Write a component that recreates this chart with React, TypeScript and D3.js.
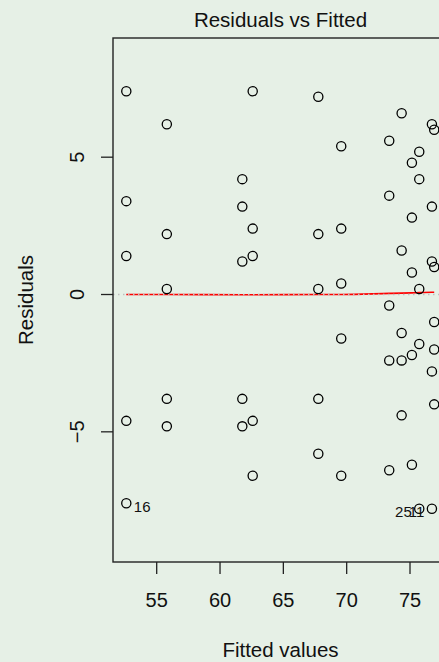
import * as d3 from "d3";
import React from "react";

// fitted value of each group of observations
const fittedLevels = [52.6, 55.8, 61.76, 62.58, 67.76, 69.57, 73.36, 74.34, 75.15, 75.73, 76.73, 76.91];

// residuals per fitted level (same order as fittedLevels)
const residualGroups = [
	[7.4, 3.4, 1.4, -4.6, -7.6],
	[6.2, 2.2, 0.2, -3.8, -4.8],
	[4.2, 3.2, 1.2, -3.8, -4.8],
	[7.4, 2.4, 1.4, -4.6, -6.6],
	[7.2, 2.2, 0.2, -3.8, -5.8],
	[5.4, 2.4, 0.4, -1.6, -6.6],
	[5.6, 3.6, -0.4, -2.4, -6.4],
	[6.6, 1.6, -1.4, -2.4, -4.4],
	[4.8, 2.8, 0.8, -2.2, -6.2],
	[5.2, 4.2, 0.2, -1.8, -7.8],
	[6.2, 3.2, 1.2, -2.8, -7.8],
	[6.0, 1.0, -1.0, -2.0, -4.0],
];

// lowess smoother through the residuals
const smoothX = [52.6, 55.8, 61.76, 62.58, 67.76, 69.57, 73.36, 74.34, 75.15, 75.73, 76.73, 76.91];
const smoothY = [0.0, 0.0, -0.01, -0.01, 0.0, 0.0, 0.04, 0.05, 0.06, 0.07, 0.08, 0.08];

// labelled extreme observations
const idLabels = ["16", "25", "11"];
const idFitted = [52.6, 75.73, 76.73];
const idResid = [-7.6, -7.8, -7.8];

const xTicks = [55, 60, 65, 70, 75];
const yTicks = [-5, 0, 5];

const W = 439;
const H = 662;
const font = "'Liberation Sans', Arial, Helvetica, sans-serif";

export default function App() {
	const left = 113;
	const right = 448;
	const top = 38;
	const bottom = 562;

	const x = d3.scaleLinear().domain([51.55, 78.0]).range([left, right]);
	const y = d3.scaleLinear().domain([-9.74, 9.34]).range([bottom, top]);

	const points: [number, number][] = [];
	fittedLevels.forEach((f, i) => {
		residualGroups[i].forEach((r) => points.push([f, r]));
	});

	const smooth = d3
		.line<number>()
		.x((d, i) => x(smoothX[i]))
		.y((d) => y(d))
		.curve(d3.curveMonotoneX)(smoothY);

	const midX = d3.mean(x.domain())!;

	return (
		<svg
			width={W}
			height={H}
			style={{ position: "absolute", left: 0, top: 0, background: "#e6f0e6" }}
			fontFamily={font}
		>
			<rect x={0} y={0} width={W} height={H} fill="#e6f0e6" />

			<text x={(left + right) / 2} y={26.5} textAnchor="middle" fontSize={20.5} fill="#111">
				Residuals vs Fitted
			</text>

			{/* zero reference and smoother */}
			<path d={smooth ?? ""} fill="none" stroke="#ff0000" strokeWidth={1.6} />
			<line
				x1={left}
				x2={right}
				y1={y(0)}
				y2={y(0)}
				stroke="#bebebe"
				strokeWidth={1.5}
				strokeDasharray="1.5 3.5"
			/>

			{points.map((p, i) => (
				<circle key={i} cx={x(p[0])} cy={y(p[1])} r={4.6} fill="none" stroke="#000" strokeWidth={1.3} />
			))}

			{idLabels.map((lab, i) => {
				const px = x(idFitted[i]);
				const onLeft = idFitted[i] > midX;
				return (
					<text
						key={lab}
						x={onLeft ? px - 7.5 : px + 7.5}
						y={y(idResid[i]) + 8.5}
						textAnchor={onLeft ? "end" : "start"}
						fontSize={15}
						fill="#111"
					>
						{lab}
					</text>
				);
			})}

			{/* box */}
			<rect x={left} y={top} width={right - left} height={bottom - top} fill="none" stroke="#222" strokeWidth={1.4} />

			{/* x axis */}
			{xTicks.map((t) => (
				<g key={t}>
					<line x1={x(t)} x2={x(t)} y1={bottom} y2={bottom + 12} stroke="#222" strokeWidth={1.3} />
					<text x={x(t)} y={607} textAnchor="middle" fontSize={20} fill="#111">
						{t}
					</text>
				</g>
			))}
			<text x={(left + right) / 2} y={657} textAnchor="middle" fontSize={20.5} fill="#111">
				Fitted values
			</text>

			{/* y axis */}
			{yTicks.map((t) => (
				<g key={t}>
					<line x1={left - 12} x2={left} y1={y(t)} y2={y(t)} stroke="#222" strokeWidth={1.3} />
					<text
						transform={`translate(84,${y(t)}) rotate(-90)`}
						textAnchor="middle"
						fontSize={20}
						fill="#111"
					>
						{t < 0 ? `\u2212${Math.abs(t)}` : t}
					</text>
				</g>
			))}
			<text transform={`translate(33,${(top + bottom) / 2}) rotate(-90)`} textAnchor="middle" fontSize={20.5} fill="#111">
				Residuals
			</text>
		</svg>
	);
}
